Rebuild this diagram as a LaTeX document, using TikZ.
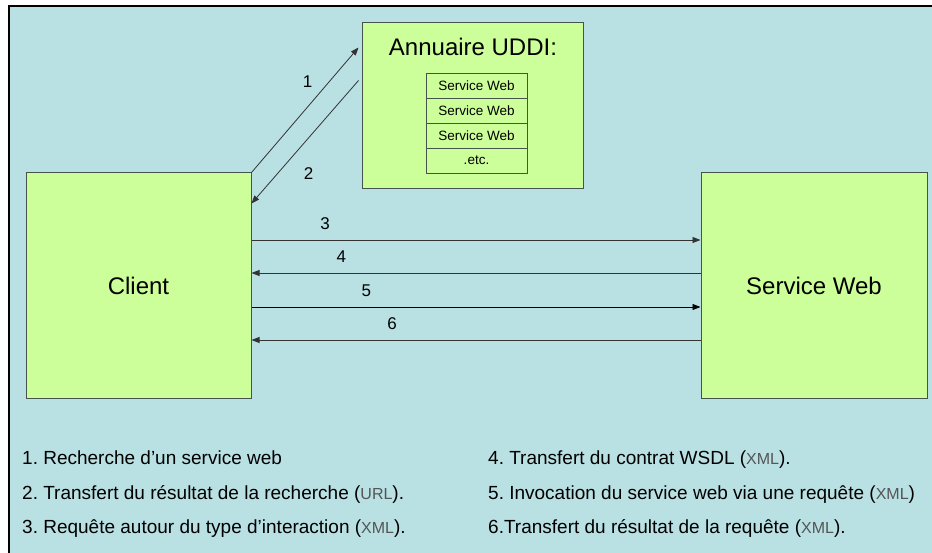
\documentclass[tikz,border=0pt]{standalone}
\usepackage{fontspec}
\setmainfont{Liberation Sans}
\usetikzlibrary{arrows.meta}
\definecolor{panelblue}{RGB}{185,224,227}
\definecolor{boxgreen}{RGB}{204,255,153}
\definecolor{edgegray}{RGB}{70,82,76}
\definecolor{taggray}{RGB}{85,85,85}
\newcommand\fmttag[1]{(\textcolor{taggray}{\fontsize{16}{16}\selectfont #1})}
\frenchspacing

\begin{document}
\begin{tikzpicture}[x=1pt,y=-1pt,
  box/.style={draw=edgegray, line width=1pt, fill=boxgreen, inner sep=0pt},
  cell/.style={draw=edgegray, line width=0.8pt, fill=boxgreen, minimum width=101pt,
               minimum height=25pt, inner sep=0pt, font=\fontsize{13.5}{13.5}\selectfont},
  arr/.style={draw=black!80, line width=0.8pt, -{Triangle[length=8pt,width=6pt]}},
  num/.style={font=\fontsize{17}{17}\selectfont, inner sep=0pt},
  legend/.style={anchor=base west, inner sep=0pt, font=\fontsize{19}{19}\selectfont}]

% canvas and panel
\useasboundingbox (0,0) rectangle (932,553);
\fill[white] (0,0) rectangle (932,553);
\fill[panelblue] (9,6) rectangle (932,553);
\draw[line width=1.2pt] (9,553) -- (9,6) -- (932,6);

% main boxes
\node[box, minimum width=225pt, minimum height=225pt,
      font=\fontsize{24}{24}\selectfont] (client) at (138.5,285.5) {Client};
\node[box, minimum width=226pt, minimum height=225pt,
      font=\fontsize{24}{24}\selectfont] (service) at (814,285.5) {Service Web};

% UDDI registry with its list of services
\node[box, minimum width=221pt, minimum height=166pt] (uddi) at (472.5,106) {};
\node[font=\fontsize{24}{24}\selectfont, inner sep=0pt] (title) at (473,47) {Annuaire UDDI:};
\node[cell] (c1) at (476.5,85.5) {Service Web};
\node[cell] (c2) at (476.5,110.5) {Service Web};
\node[cell] (c3) at (476.5,135.5) {Service Web};
\node[cell] (c4) at (476.5,160.5) {.etc.};

% discovery exchanges
\draw[arr] (client.north east) -- ([xshift=-3pt,yshift=-25pt]uddi.north west)
  node[num, pos=0.73, xshift=-22pt] {1};
\draw[arr] ([xshift=-3pt,yshift=-58pt]uddi.north west) -- ([yshift=-31pt]client.north east)
  node[num, pos=0.756, xshift=31pt] {2};

% exchanges with the web service
\draw[arr] ([yshift=45.5pt]client.east) -- ([yshift=45.5pt]service.west)
  node[num, pos=0.164, yshift=16pt] {3};
\draw[arr] ([yshift=12.5pt]service.west) -- ([yshift=12.5pt]client.east)
  node[num, pos=0.8, yshift=16pt] {4};
\draw[arr, draw=black] ([yshift=-21.5pt]client.east) -- ([yshift=-21.5pt]service.west)
  node[num, pos=0.256, yshift=16pt] {5};
\draw[arr] ([yshift=-54.5pt]service.west) -- ([yshift=-54.5pt]client.east)
  node[num, pos=0.687, yshift=16pt] {6};

% legend
\node[legend] (l1) at (22,464) {1. Recherche d’un service web};
\node[legend] (l2) at (22,499) {2. Transfert du résultat de la recherche \fmttag{URL}.};
\node[legend] (l3) at (22,533) {3. Requête autour du type d’interaction \fmttag{XML}.};
\node[legend] (l4) at (488,464) {4. Transfert du contrat WSDL \fmttag{XML}.};
\node[legend] (l5) at (488,499) {5. Invocation du service web via une requête \fmttag{XML}};
\node[legend] (l6) at (488,533) {6.Transfert du résultat de la requête \fmttag{XML}.};
\end{tikzpicture}
\end{document}
